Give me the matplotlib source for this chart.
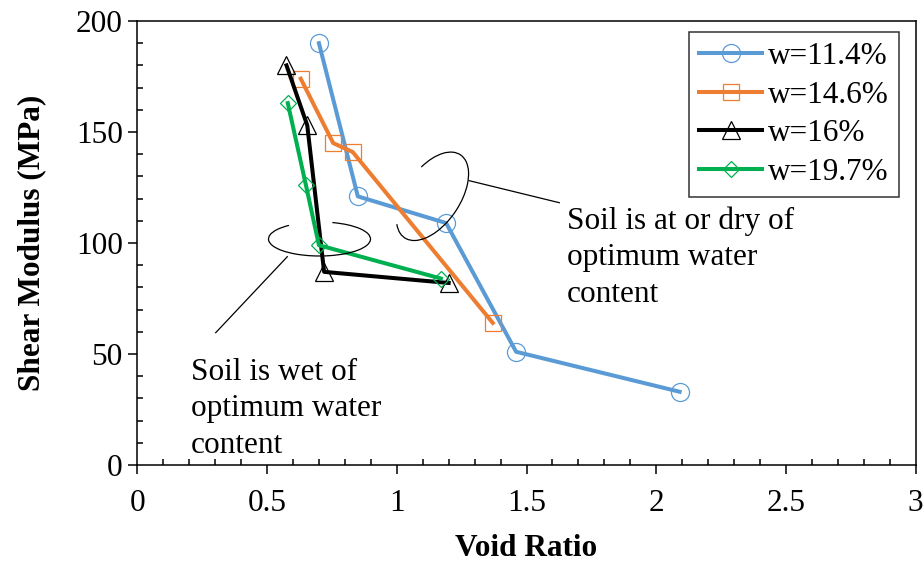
import numpy as np
import matplotlib.pyplot as plt
from matplotlib.patches import Arc
from matplotlib.transforms import Affine2D
from matplotlib.ticker import MultipleLocator

plt.rcParams['font.family'] = ['Liberation Serif', 'DejaVu Serif']

# Data
e_114 = [0.70, 0.85, 1.19, 1.46, 2.09]
G_114 = [190, 121, 109, 51, 33]

e_146 = [0.63, 0.755, 0.83, 1.37]
G_146 = [174, 145, 141, 64]

e_16 = [0.575, 0.655, 0.72, 1.20]
G_16 = [180, 153, 87, 82]

e_197 = [0.58, 0.65, 0.70, 1.17]
G_197 = [163, 126, 99, 84]

labels = ['w=11.4%', 'w=14.6%', 'w=16%', 'w=19.7%']

W, H = 923, 562
FS = 22.5
fig = plt.figure(figsize=(W / 100, H / 100), dpi=100)
ax = fig.add_axes([137.3 / W, 1 - 465 / H, (915.7 - 137.3) / W, (465 - 21) / H])

ax.plot(e_114, G_114, color='#5B9BD5', lw=2.9, marker='o', ms=13,
        mfc='none', mec='#5B9BD5', mew=0.9, label=labels[0])
ax.plot(e_146, G_146, color='#ED7D31', lw=2.9, marker='s', ms=11.5,
        mfc='none', mec='#ED7D31', mew=0.9, label=labels[1])
ax.plot(e_16, G_16, color='black', lw=2.9, marker='^', ms=12.5,
        mfc='none', mec='black', mew=0.9, label=labels[2])
ax.plot(e_197, G_197, color='#00B050', lw=2.9, marker='D', ms=8.5,
        mfc='none', mec='#00B050', mew=0.9, label=labels[3])

ax.set_xlim(0, 3)
ax.set_ylim(0, 200)
ax.xaxis.set_major_locator(MultipleLocator(0.5))
ax.xaxis.set_minor_locator(MultipleLocator(0.1))
ax.yaxis.set_major_locator(MultipleLocator(50))
ax.yaxis.set_minor_locator(MultipleLocator(10))
ax.set_xticks([0, 0.5, 1, 1.5, 2, 2.5, 3], ['0', '0.5', '1', '1.5', '2', '2.5', '3'])
ax.tick_params(which='major', direction='out', length=6.5, width=1.1, labelsize=FS)
ax.tick_params(axis='x', which='major', pad=11)
ax.tick_params(axis='y', which='major', pad=4)
ax.tick_params(which='minor', direction='in', length=4, width=1.1)
for s in ax.spines.values():
    s.set_linewidth(1.1)

ax.set_xlabel('Void Ratio', fontsize=FS, fontweight='bold', labelpad=11)
ax.set_ylabel('Shear Modulus (MPa)', fontsize=FS, fontweight='bold', labelpad=21)

leg = ax.legend(loc='upper right', bbox_to_anchor=(0.979, 0.975), fontsize=FS,
                frameon=True, fancybox=False, edgecolor='black', handlelength=2.0,
                handletextpad=0.2, borderpad=0.33, labelspacing=0.3,
                borderaxespad=0)
leg.get_frame().set_linewidth(1.1)

# annotations drawn in image pixel coordinates (y up)
px = Affine2D().scale(1 / 100) + fig.dpi_scale_trans

fig.patches.append(Arc((319.5, H - 239), 102, 34, angle=0, theta1=156, theta2=412,
                       transform=px, color='black', lw=0.9))
fig.patches.append(Arc((432.5, H - 196.3), 100, 55, angle=56, theta1=162, theta2=415,
                       transform=px, color='black', lw=0.9))
fig.lines.append(plt.Line2D([287.3, 215.7], [H - 256.7, H - 332.7], transform=px,
                            color='black', lw=0.9))
fig.lines.append(plt.Line2D([469.3, 559.3], [H - 180.7, H - 202.7], transform=px,
                            color='black', lw=0.9))

fig.text(191, H - 358, 'Soil is wet of\noptimum water\ncontent', transform=px,
         fontsize=FS, va='top', ha='left', linespacing=1.33)
fig.text(567, H - 206, 'Soil is at or dry of\noptimum water\ncontent', transform=px,
         fontsize=FS, va='top', ha='left', linespacing=1.36)

fig.savefig('out.png', dpi=100)
